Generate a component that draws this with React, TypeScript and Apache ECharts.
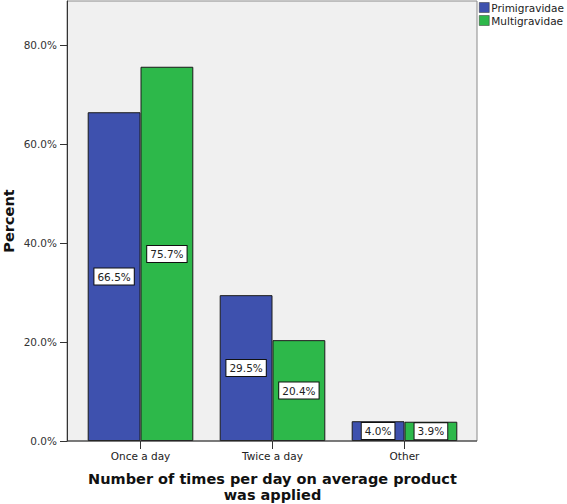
import React, { useEffect, useRef } from "react";
import * as echarts from "echarts";

const categories = ["Once a day", "Twice a day", "Other"];
const primigravidae = [66.5, 29.5, 4.0];
const multigravidae = [75.7, 20.4, 3.9];
const yTicks = [0, 20, 40, 60, 80];
const seriesNames = ["Primigravidae", "Multigravidae"];

const FONT = "DejaVu Sans";

export default function App() {
  const ref = useRef<HTMLDivElement>(null);
  useEffect(() => {
    document.body.style.margin = "0";
    const chart = echarts.init(ref.current!, null, { renderer: "svg" });
    const label = {
      show: true,
      position: "inside",
      formatter: (p: any) => p.value.toFixed(1) + "%",
      fontFamily: FONT,
      fontSize: 10.5,
      color: "#222",
      backgroundColor: "#fff",
      borderColor: "#111",
      borderWidth: 1,
      padding: [3, 3, 2, 3],
    };
    chart.setOption({
      animation: false,
      backgroundColor: "#fff",
      textStyle: { fontFamily: FONT },
      grid: {
        left: 74.5,
        right: 96.5,
        top: 1,
        bottom: 63,
        containLabel: false,
        outerBoundsMode: "none",
      },
      legend: {
        orient: "vertical",
        left: 479,
        top: 2,
        padding: 0,
        itemWidth: 10,
        itemHeight: 10,
        itemGap: 2,
        icon: "rect",
        data: seriesNames,
        itemStyle: { borderColor: "#333", borderWidth: 0.5 },
        textStyle: { fontFamily: FONT, fontSize: 10.5, color: "#222", padding: [0, 0, 0, -3] },
      },
      graphic: [
        {
          type: "rect",
          z: -10,
          shape: { x: 67, y: 1, width: 410, height: 440 },
          style: { fill: "#F0F0F0", stroke: "#8a8a8a", lineWidth: 1 },
        },
        {
          type: "line",
          z: 10,
          shape: { x1: 67, y1: 441, x2: 477, y2: 441 },
          style: { stroke: "#333", lineWidth: 1 },
        },
      ],
      xAxis: {
        type: "category",
        data: categories,
        axisLine: { show: false },
        axisTick: { show: true, alignWithLabel: true, length: 8, lineStyle: { color: "#333" } },
        axisLabel: { fontFamily: FONT, fontSize: 10.5, color: "#222", margin: 9 },
        name: "Number of times per day on average product\nwas applied",
        nameLocation: "middle",
        nameGap: 30,
        nameMoveOverlap: false,
        nameTextStyle: { fontFamily: FONT, fontSize: 14.5, fontWeight: "bold", color: "#111", lineHeight: 16 },
      },
      yAxis: {
        type: "value",
        min: 0,
        max: 89,
        interval: 20,
        offset: 7.5,
        axisLine: { show: true, lineStyle: { color: "#333" } },
        axisTick: { show: true, length: 7, lineStyle: { color: "#333" }, customValues: yTicks },
        axisLabel: {
          fontFamily: FONT,
          fontSize: 10.5,
          color: "#333",
          margin: 10,
          customValues: yTicks,
          formatter: (v: number) => v.toFixed(1) + "%",
        },
        splitLine: { show: false },
        name: "Percent",
        nameLocation: "middle",
        nameGap: 50.5,
        nameMoveOverlap: false,
        nameTextStyle: { fontFamily: FONT, fontSize: 14.5, fontWeight: "bold", color: "#111" },
      },
      series: [
        {
          name: seriesNames[0],
          type: "bar",
          data: primigravidae,
          barGap: "0%",
          barCategoryGap: "20%",
          itemStyle: { color: "#3E51AE", borderColor: "#1a1a1a", borderWidth: 1 },
          label,
        },
        {
          name: seriesNames[1],
          type: "bar",
          data: multigravidae,
          barGap: "0%",
          barCategoryGap: "20%",
          itemStyle: { color: "#2DB84A", borderColor: "#1a1a1a", borderWidth: 1 },
          label,
        },
      ],
    });
    return () => chart.dispose();
  }, []);
  return (
    <div
      ref={ref}
      style={{ position: "fixed", left: 0, top: 0, width: 567, height: 504 }}
    />
  );
}
